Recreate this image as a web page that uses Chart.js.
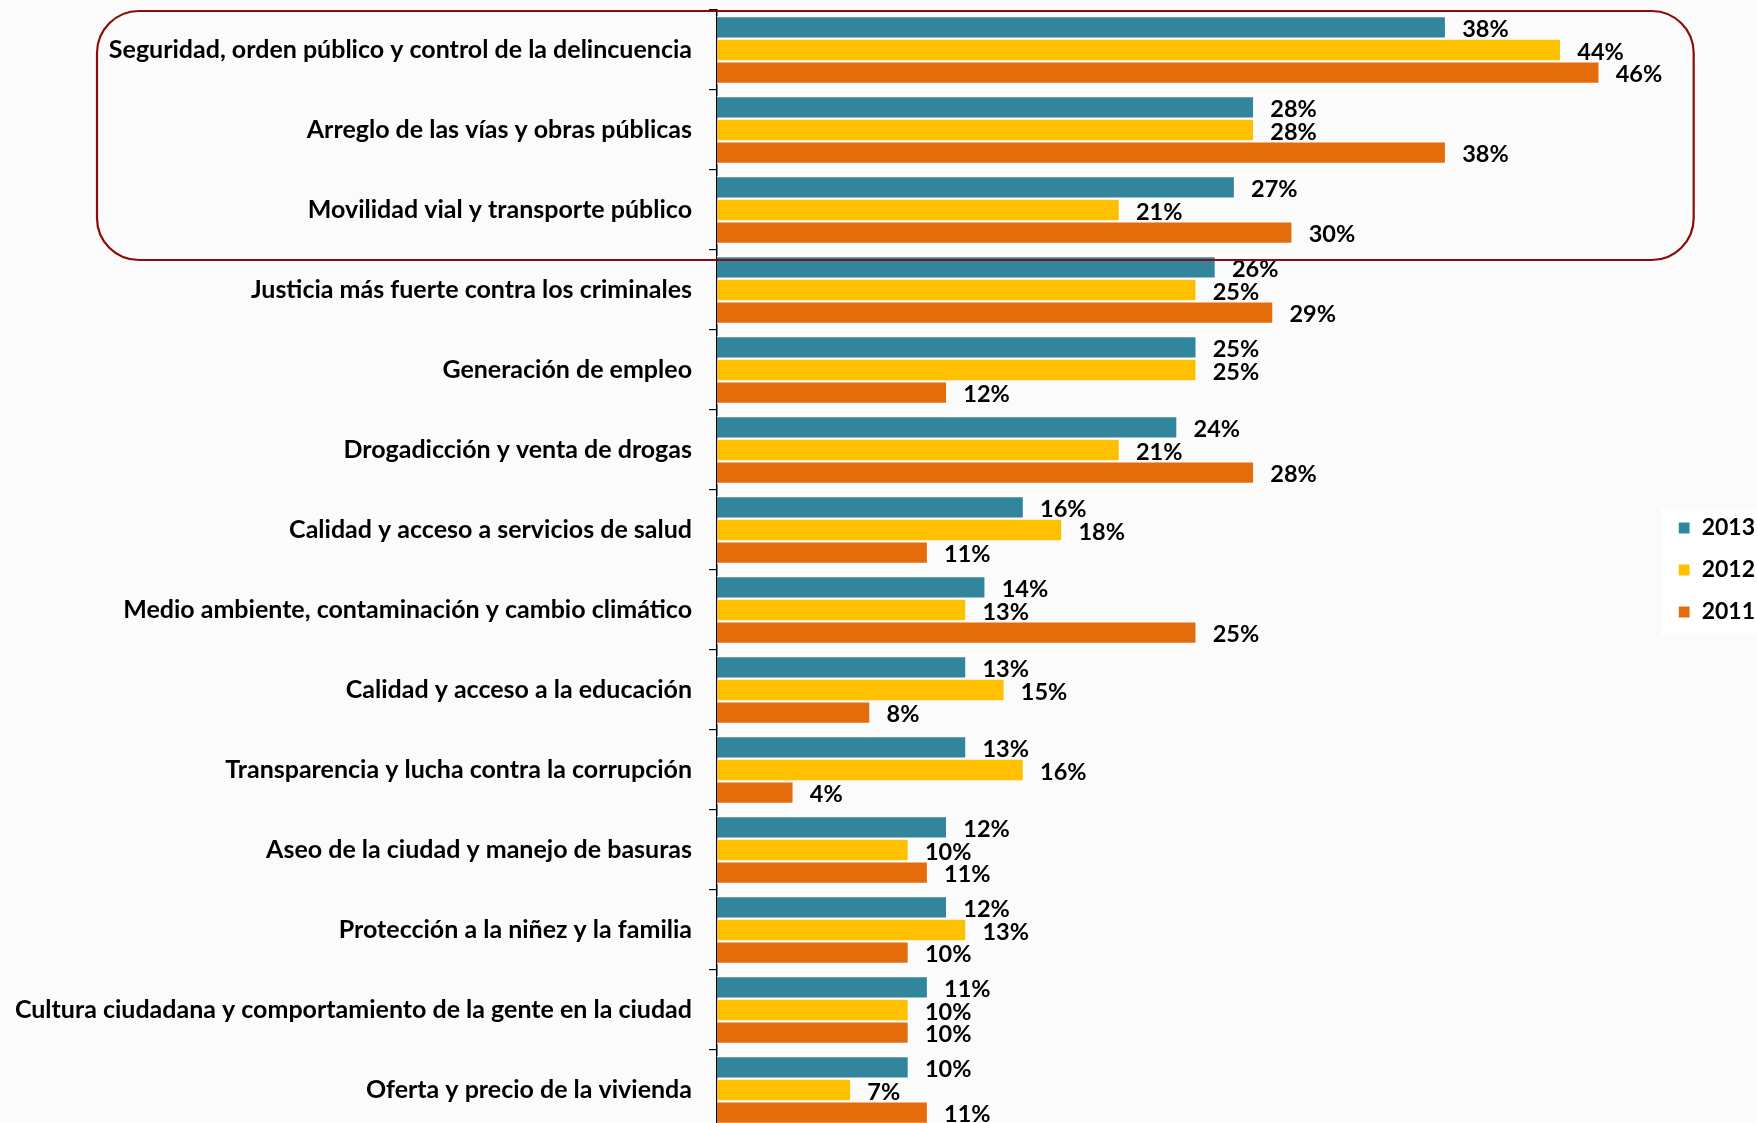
<!DOCTYPE html>
<html lang="es">
<head>
<meta charset="utf-8">
<title>Problemas prioritarios 2011-2013</title>
<script src="https://cdn.jsdelivr.net/npm/chart.js@4.4.1/dist/chart.umd.min.js"></script>
<style>
  html, body { margin: 0; padding: 0; background: #fbfbfb; overflow: hidden; }
  #wrap { position: relative; width: 1765px; height: 1140px; }
</style>
</head>
<body>
<div id="wrap"><canvas id="chart"></canvas></div>
<script>
// Temas señalados como prioritarios, por año de la encuesta (%)
const categories = [
  'Seguridad, orden público y control de la delincuencia',
  'Arreglo de las vías y obras públicas',
  'Movilidad vial y transporte público',
  'Justicia más fuerte contra los criminales',
  'Generación de empleo',
  'Drogadicción y venta de drogas',
  'Calidad y acceso a servicios de salud',
  'Medio ambiente, contaminación y cambio climático',
  'Calidad y acceso a la educación',
  'Transparencia y lucha contra la corrupción',
  'Aseo de la ciudad y manejo de basuras',
  'Protección a la niñez y la familia',
  'Cultura ciudadana y comportamiento de la gente en la ciudad',
  'Oferta y precio de la vivienda'
];
const values2013 = [38, 28, 27, 26, 25, 24, 16, 14, 13, 13, 12, 12, 11, 10];
const values2012 = [44, 28, 21, 25, 25, 21, 18, 13, 15, 16, 10, 13, 10, 7];
const values2011 = [46, 38, 30, 29, 12, 28, 11, 25, 8, 4, 11, 10, 10, 11];
const seriesNames = ['2013', '2012', '2011'];
const highlighted = 3; // the first three topics are framed

const FONT = 'Lato, "Open Sans", "DejaVu Sans", sans-serif';

// Percentage printed to the right of every bar
const valueLabels = {
  id: 'valueLabels',
  afterDatasetsDraw(chart) {
    const ctx = chart.ctx;
    ctx.save();
    ctx.font = 'bold 23.5px ' + FONT;
    ctx.fillStyle = '#000';
    ctx.textAlign = 'left';
    ctx.textBaseline = 'middle';
    chart.data.datasets.forEach((ds, i) => {
      chart.getDatasetMeta(i).data.forEach((bar, j) => {
        ctx.fillText(ds.data[j] + '%', bar.x + 16, bar.y + 2);
      });
    });
    ctx.restore();
  }
};

// Rounded frame around the leading topics
const highlightFrame = {
  id: 'highlightFrame',
  afterDraw(chart) {
    const y = chart.scales.y, x = chart.scales.x;
    const step = y.getPixelForValue(1) - y.getPixelForValue(0);
    const top = y.getPixelForValue(0) - step / 2 + 1;
    const bottom = y.getPixelForValue(highlighted - 1) + step / 2 + 10;
    const left = 97;
    const right = x.getPixelForValue(50.9);
    const r = 42;
    const ctx = chart.ctx;
    ctx.save();
    ctx.strokeStyle = '#8b0a0a';
    ctx.lineWidth = 2.2;
    ctx.beginPath();
    ctx.roundRect(left, top, right - left, bottom - top, r);
    ctx.stroke();
    ctx.restore();
  }
};

// White panel behind the legend
const legendPanel = {
  id: 'legendPanel',
  beforeDraw(chart) {
    const lg = chart.legend;
    if (!lg) return;
    const ctx = chart.ctx;
    ctx.save();
    ctx.fillStyle = '#ffffff';
    const h = 126;
    const cy = (lg.top + lg.bottom) / 2;
    ctx.fillRect(lg.left + 2, cy - h / 2 + 2, chart.width - lg.left, h);
    ctx.restore();
  }
};

const colors = ['#31859c', '#ffc000', '#e46c0a'];
const seriesValues = [values2013, values2012, values2011];

new Chart(document.getElementById('chart'), {
  type: 'bar',
  data: {
    labels: categories,
    datasets: seriesNames.map((name, i) => ({
      label: name,
      data: seriesValues[i],
      backgroundColor: colors[i],
      borderColor: '#ffffff',
      borderWidth: 1.2,
      borderSkipped: 'start',
      categoryPercentage: 0.85,
      barPercentage: 1.0
    }))
  },
  options: {
    indexAxis: 'y',
    responsive: true,
    maintainAspectRatio: false,
    animation: false,
    layout: { padding: { top: 10, bottom: 10, left: 0, right: 0 } },
    scales: {
      x: {
        display: false,
        min: 0,
        max: 49.1
      },
      y: {
        afterFit(scale) {
          scale.width = 717;
          scale.paddingTop = 0;
          scale.paddingBottom = 0;
        },
        border: { display: true, color: '#000', width: 1.5 },
        grid: { drawOnChartArea: false, tickLength: 8, color: '#000', lineWidth: 1.2 },
        ticks: {
          padding: 17,
          color: '#000',
          font: { family: FONT, size: 25, weight: 'bold' }
        }
      }
    },
    plugins: {
      tooltip: { enabled: false },
      legend: {
        position: 'right',
        align: 'center',
        labels: {
          boxWidth: 12,
          boxHeight: 12,
          padding: 19,
          color: '#000',
          font: { family: FONT, size: 23, weight: 'bold' }
        }
      }
    }
  },
  plugins: [legendPanel, valueLabels, highlightFrame]
});
</script>
</body>
</html>
